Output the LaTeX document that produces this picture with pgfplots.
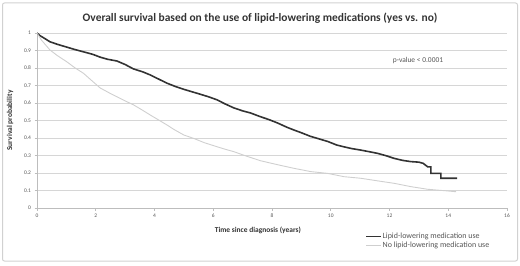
\documentclass[border=0pt]{standalone}
\usepackage{pgfplots}
\pgfplotsset{compat=1.18}
\usepackage{fontspec}
\setmainfont{Carlito}
\definecolor{darkc}{HTML}{333333}
\definecolor{lightc}{HTML}{CFCFCF}
\definecolor{gridc}{HTML}{D6D6D6}
\definecolor{axc}{HTML}{BDBDBD}
\definecolor{txtc}{HTML}{555555}
\begin{document}
\begin{tikzpicture}[x=1bp,y=1bp]
\path[use as bounding box] (0,0) rectangle (520,265);
\draw[axc!70, line width=1bp, rounded corners=2bp] (2.5,4) rectangle (517.5,262);
\node[font=\fontsize{11.5}{13}\selectfont\bfseries, text=black!80] at (260,247) {Overall survival based on the use of lipid-lowering medications (yes vs. no)};
\begin{axis}[
  at={(37bp,57bp)}, anchor=south west,
  scale only axis, width=470bp, height=175bp,
  xmin=0, xmax=16, ymin=0, ymax=1,
  xtick={0,2,...,16}, ytick={0,0.1,...,1.0},
  yticklabels={0,0.1,0.2,0.3,0.4,0.5,0.6,0.7,0.8,0.9,1},
  /pgf/number format/assume math mode=true,
  ticklabel style={font=\fontsize{5.5}{6}\selectfont, text=txtc},
  axis x line*=bottom, axis y line*=left,
  axis line style={axc, line width=0.8bp},
  x axis line style={-}, y axis line style={-},
  ymajorgrids, grid style={gridc, line width=0.8bp},
  tick style={axc, line width=0.6bp}, major tick length=2.5bp, tick align=outside,
  xtick pos=bottom, ytick pos=left,
  xlabel={\bfseries Time since diagnosis (years)},
  ylabel={\bfseries Survival probability},
  xlabel style={font=\fontsize{7.5}{8}\selectfont, text=black!80, at={(axis description cs:0.47,-0.13)}, anchor=center},
  ylabel style={font=\fontsize{7.5}{8}\selectfont, text=black!80, at={(axis description cs:-0.057,0.5)}, anchor=center},
  legend style={at={(axis description cs:0.697,-0.132)}, anchor=north west, draw=none, fill=none,
    font=\fontsize{8}{9}\selectfont, text=txtc, row sep=0bp, inner sep=0.5bp,
    nodes={inner sep=1bp}},
  legend cell align=left,
  legend image code/.code={\draw[#1] (0cm,0cm) -- (0.52cm,0cm);},
]
\addplot[darkc, line width=1.6bp] coordinates {
(0,1) (0.1,0.985) (0.25,0.97) (0.44,0.95) (0.7,0.935) (1.0,0.92) (1.3,0.905)
(1.57,0.893) (1.9,0.878) (2.15,0.862) (2.4,0.85) (2.72,0.84) (3.0,0.82)
(3.28,0.795) (3.6,0.778) (3.86,0.76) (4.1,0.74) (4.43,0.713) (4.7,0.695)
(5.0,0.678) (5.3,0.663) (5.56,0.65) (5.85,0.635) (6.13,0.618) (6.4,0.595)
(6.7,0.572) (7.0,0.555) (7.27,0.543) (7.6,0.522) (7.9,0.505) (8.2,0.485)
(8.5,0.462) (8.74,0.446) (9.0,0.43) (9.3,0.41) (9.6,0.395) (9.9,0.38)
(10.2,0.36) (10.44,0.35) (10.7,0.34) (11.02,0.331) (11.3,0.322) (11.6,0.312)
(11.9,0.298) (12.15,0.284) (12.45,0.272) (12.73,0.265) (13.0,0.262) (13.15,0.255)
(13.3,0.235) (13.41,0.235) (13.41,0.198) (13.75,0.198) (13.75,0.17) (14.3,0.17)
};
\addlegendentry{Lipid-lowering medication use}
\addplot[lightc, line width=0.9bp] coordinates {
(0,1) (0.15,0.96) (0.44,0.903) (0.7,0.87) (1.01,0.836) (1.3,0.8) (1.58,0.77)
(1.85,0.73) (2.15,0.686) (2.49,0.655) (2.72,0.636) (3.0,0.612) (3.29,0.589)
(3.58,0.56) (3.86,0.531) (4.15,0.502) (4.43,0.474) (4.65,0.45) (5.0,0.417)
(5.33,0.398) (5.7,0.373) (6.13,0.35) (6.4,0.336) (6.7,0.322) (7.1,0.298)
(7.61,0.27) (8.2,0.247) (8.74,0.227) (9.32,0.208) (9.89,0.198) (10.45,0.179)
(11.02,0.17) (11.6,0.155) (12.16,0.141) (12.73,0.122) (13.3,0.107) (13.87,0.099)
(14.27,0.093)
};
\addlegendentry{No lipid-lowering medication use}
\node[font=\fontsize{7.5}{8}\selectfont, text=txtc, anchor=center] at (axis cs:12.97,0.84) {p-value < 0.0001};
\end{axis}
\end{tikzpicture}
\end{document}
